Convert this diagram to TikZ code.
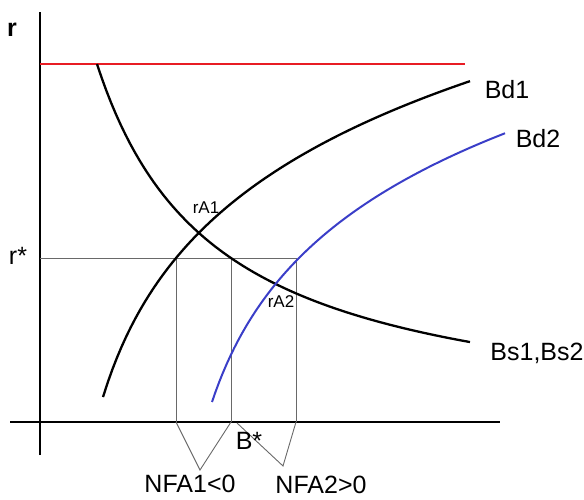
\documentclass[tikz,border=0pt]{standalone}
\usepackage{fontspec}
\setmainfont{Liberation Sans}
\usetikzlibrary{positioning}
\definecolor{CapRed}{RGB}{232, 28, 36}
\definecolor{DemandBlue}{RGB}{58, 62, 200}
\definecolor{GuideGray}{RGB}{105, 105, 105}
\begin{document}
\begin{tikzpicture}[
    x=1pt, y=-1pt,
    axis/.style={line width=2.3pt, black},
    curve/.style={line width=2.3pt, black},
    guide/.style={line width=0.9pt, GuideGray},
    lbl/.style={font=\fontsize{25}{27}\selectfont, inner sep=0pt},
    small/.style={font=\fontsize{17}{19}\selectfont, inner sep=0pt}
  ]
  \useasboundingbox (0,0) rectangle (584,500);

  % axes
  \coordinate (ytop) at (40,12);
  \coordinate (ybot) at (40,455);
  \coordinate (xleft) at (10,422);
  \coordinate (xright) at (500,422);
  \draw[axis] (ybot) -- (ytop);
  \draw[axis] (xleft) -- (xright);

  % ceiling
  \coordinate (capL) at (40,64);
  \coordinate (capR) at (465,64);
  \draw[line width=2.3pt, CapRed] (capL) -- (capR);

  % guide lines at r*
  \coordinate (rs) at (40,258);
  \coordinate (g1) at (176,258);
  \coordinate (g2) at (231,258);
  \coordinate (g3) at (296,258);
  \coordinate (b1) at (176,422);
  \coordinate (b2) at (231,422);
  \coordinate (b3) at (296,422);
  \coordinate (v1) at (200,470);
  \coordinate (w2) at (237,423);
  \coordinate (v2) at (283,466);
  \draw[guide] (rs) -- (g3);
  \draw[guide] (g1) -- (b1);
  \draw[guide] (g2) -- (b2);
  \draw[guide] (g3) -- (b3);
  \draw[guide] (b1) -- (v1) -- (b2);
  \draw[guide] (w2) -- (v2) -- (b3);

  % curves
  \draw[curve] plot[domain=97:470, samples=80] (\x, {431.2 - 439.12/((\x + 22.6)/100)});
  \draw[curve] plot[domain=103:470, samples=80] (\x, {924 - 140.1*ln(\x - 60)});
  \draw[line width=2pt, DemandBlue] plot[domain=212:505, samples=80] (\x, {901.5 - 132*ln(\x - 168)});

  % labels
  \node[lbl, font=\bfseries\fontsize{25}{27}\selectfont] (r) at (12,30) {r};
  \node[lbl] (rstar) at (18,256) {r*};
  \node[small] (ra1) at (206,208) {rA1};
  \node[small] (ra2) at (281,302) {rA2};
  \node[lbl] (bd1) at (507,90) {Bd1};
  \node[lbl] (bd2) at (538,139) {Bd2};
  \node[lbl] (bs) at (537,353) {Bs1,Bs2};
  \node[lbl] (bstar) at (249,441) {B*};
  \node[lbl] (nfa1) at (190,484) {NFA1<0};
  \node[lbl] (nfa2) at (321,485) {NFA2>0};
\end{tikzpicture}
\end{document}
